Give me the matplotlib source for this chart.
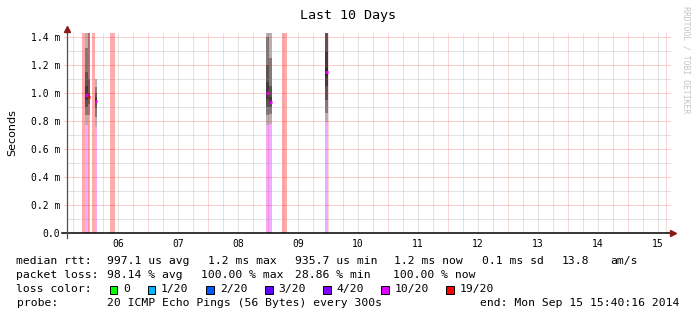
import numpy as np
import matplotlib
matplotlib.use('Agg')
import matplotlib.pyplot as plt
from matplotlib.patches import Rectangle

W, H = 697, 321

# time axis in day-of-month (Sep 2014), values in ms
t_start, t_end = 5.6528, 15.6528
day_labels = ['06', '07', '08', '09', '10', '11', '12', '13', '14', '15']
y_ticks = [0.0, 0.2, 0.4, 0.6, 0.8, 1.0, 1.2, 1.4]
y_labels = ['0.0', '0.2 m', '0.4 m', '0.6 m', '0.8 m', '1.0 m', '1.2 m', '1.4 m']

col_from = [5.900, 5.942, 5.992, 6.067, 6.117, 6.367, 8.975, 9.025, 9.233, 9.950]
col_to = [5.942, 5.992, 6.033, 6.117, 6.150, 6.455, 9.025, 9.075, 9.325, 9.995]
col_loss = [19, 10, 19, 19, 10, 19, 10, 10, 19, 10]
col_median = [None, 0.984, 0.974, None, 0.945, None, 1.002, 0.936, None, 1.150]
col_pings = [
    [],
    [0.77, 0.84, 0.90, 0.95, 0.98, 0.99, 1.05, 1.15, 1.32, 1.70],
    [0.84, 0.92, 0.96, 0.97, 0.98, 1.00, 1.10, 1.60],
    [],
    [0.76, 0.83, 0.89, 0.93, 0.945, 0.95, 0.97, 1.00, 1.04, 1.10],
    [],
    [0.77, 0.84, 0.90, 0.96, 1.00, 1.01, 1.08, 1.20, 1.40, 1.70],
    [0.78, 0.85, 0.90, 0.92, 0.935, 0.94, 0.97, 1.05, 1.25, 1.70],
    [],
    [0.79, 0.86, 0.95, 1.05, 1.12, 1.18, 1.30, 1.45, 1.60, 1.80],
]

loss_keys = [0, 1, 2, 3, 4, 10, 19]
loss_names = ['0', '1/20', '2/20', '3/20', '4/20', '10/20', '19/20']
loss_cols = ['#00ff00', '#00b8ff', '#0059ff', '#5e00ff', '#7e00ff', '#dd00ff', '#ff0000']
loss_map = dict(zip(loss_keys, loss_cols))

fig = plt.figure(figsize=(W / 100, H / 100), dpi=100)
ax = fig.add_axes([67.2 / W, 88 / H, 599.5 / W, 200 / H])
ymax = 200 / 140
ax.set_xlim(t_start, t_end)
ax.set_ylim(0, ymax)

for i in range(len(col_from)):
    x0, w = col_from[i], col_to[i] - col_from[i]
    c = loss_map[col_loss[i]]
    p = sorted(col_pings[i])
    if col_loss[i] >= 19:
        ax.bar(x0, ymax, width=w, align='edge', color=c, alpha=0.33, lw=0)
    elif p:
        ax.bar(x0, p[0], width=w, align='edge', color=c, alpha=0.33, lw=0)
    n = len(p)
    for k in range(n // 2):
        ax.bar(x0, p[n - 1 - k] - p[k], bottom=p[k], width=w, align='edge',
               color='k', alpha=0.3, lw=0)
    if col_median[i] is not None:
        ax.hlines(col_median[i], x0, x0 + w, color=c, lw=2.2, zorder=5)

# grid on top like rrdtool
minor_g = (0.55, 0.55, 0.55, 0.25)
major_g = (0.9, 0.1, 0.1, 0.22)
major_v = (0.9, 0.1, 0.1, 0.17)
for d in np.arange(5.75, t_end, 0.25):
    if abs(d - round(d)) > 1e-6:
        ax.axvline(d, color=minor_g, lw=0.7, zorder=6)
for d in np.arange(6, 16):
    ax.axvline(d, color=major_v, lw=0.7, zorder=6)
ax.axvline(t_end - 0.005, color=major_v, lw=0.7, zorder=6)
for v in np.arange(0.1, ymax, 0.2):
    ax.plot([0, 1.006], [v, v], transform=ax.get_yaxis_transform(), color=minor_g,
            lw=0.7, zorder=6, clip_on=False)
for v in np.arange(0.2, ymax, 0.2):
    ax.plot([-0.006, 1.006], [v, v], transform=ax.get_yaxis_transform(), color=major_g,
            lw=0.7, zorder=6, clip_on=False)

for s in ax.spines.values():
    s.set_visible(False)
ax.plot([-0.008, 1.008], [0, 0], transform=ax.transAxes, color='k', lw=1.1,
        clip_on=False, zorder=8)
ax.plot([0, 0], [-0.025, 1.02], transform=ax.transAxes, color='#505050', lw=0.9,
        clip_on=False, zorder=8)
ax.plot([1.01], [0], transform=ax.transAxes, marker='>', ms=4, color='#8b1a1a',
        clip_on=False, zorder=9)
ax.plot([0], [1.022], transform=ax.transAxes, marker='^', ms=4, color='#8b1a1a',
        clip_on=False, zorder=9)

ax.set_xticks(np.arange(6, 16) + 0.5)
ax.set_xticklabels(day_labels, family='DejaVu Sans Mono', fontsize=7)
ax.set_yticks(y_ticks)
ax.set_yticklabels(y_labels, family='DejaVu Sans Mono', fontsize=7)
ax.tick_params(axis='x', length=0, pad=4.5)
ax.tick_params(axis='y', length=0, pad=5)
ax.set_ylabel('Seconds', fontsize=8, labelpad=10)

mono = dict(family='DejaVu Sans Mono', fontsize=8.2, va='center', color='#000000')


def ftext(x, y, s, **kw):
    opts = dict(mono)
    opts.update(kw)
    fig.text(x / W, 1 - y / H, s, **opts)


ftext(348.5, 16, 'Last 10 Days', fontsize=9.6, ha='center')
ftext(686, 60, 'RRDTOOL / TOBI OETIKER', fontsize=5.9, ha='center', rotation=270,
      color='#c4c4c4')

ftext(16.5, 261, 'median rtt:')
for x, s in zip([107, 208, 295, 394.5, 481.5, 562, 610],
                ['997.1 us avg', '1.2 ms max', '935.7 us min', '1.2 ms now',
                 '0.1 ms sd', '13.8', 'am/s']):
    ftext(x, 261, s)
ftext(16.5, 275, 'packet loss:')
for x, s in zip([107, 201, 295, 393],
                ['98.14 % avg', '100.00 % max', '28.86 % min', '100.00 % now']):
    ftext(x, 275, s)
ftext(16.5, 289, 'loss color:')
box_x = [109.5, 147.5, 206.4, 265, 323, 381, 446]
for bx, c, name in zip(box_x, loss_cols, loss_names):
    fig.patches.append(Rectangle((bx / W, 1 - 293.5 / H), 7.6 / W, 8 / H,
                                 transform=fig.transFigure, facecolor=c,
                                 edgecolor='k', lw=0.7))
    ftext(bx + 13.5, 289, name)
ftext(16.5, 303, 'probe:')
ftext(107, 303, '20 ICMP Echo Pings (56 Bytes) every 300s')
ftext(480, 303, 'end: Mon Sep 15 15:40:16 2014')

fig.savefig('out.png', dpi=100)
